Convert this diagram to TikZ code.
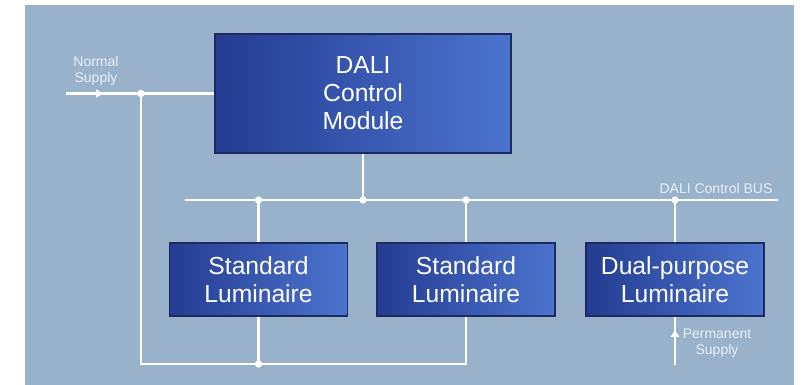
\documentclass[tikz,border=0pt]{standalone}
\usepackage{fontspec}
\setmainfont{Liberation Sans}
\usetikzlibrary{arrows.meta,decorations.markings}

\definecolor{bgblue}{RGB}{153,178,203}
\definecolor{boxdark}{RGB}{36,60,146}
\definecolor{boxlight}{RGB}{76,116,206}
\definecolor{boxedge}{RGB}{28,42,96}
\definecolor{labelgrey}{RGB}{232,238,245}

\tikzset{
  unit/.style={draw=boxedge, line width=0.8pt, left color=boxdark, right color=boxlight,
    text=white, align=center, inner sep=0pt, font=\fontsize{18.5}{21}\selectfont},
  lamp/.style={unit, minimum width=133.5pt, minimum height=54.75pt},
  wire/.style={white, line width=1.8pt},
  feed/.style={wire, postaction=decorate, decoration={markings,
    mark=at position #1 with {\arrow{Triangle[length=5pt,width=6pt]}}}},
  dot/.style={circle, fill=white, inner sep=0pt, minimum size=5.5pt},
  note/.style={text=labelgrey, align=center, inner sep=0pt, font=\fontsize{10.5}{11.5}\selectfont}
}

\begin{document}
\begin{tikzpicture}[x=0.75pt,y=0.75pt,yscale=-1,xscale=1]
\useasboundingbox (0,0) rectangle (803,385);
%Shape: Background
\fill[white] (0,0) rectangle (803,385);
\fill[bgblue] (25,5) rectangle (794,385);

%Shape: Boxes
\node[unit, minimum width=222pt, minimum height=89.25pt] (ctrl) at (363,93.5) {DALI\\Control\\Module};
\node[lamp] (lum1) at (258.5,279.5) {Standard\\Luminaire};
\node[lamp] (lum2) at (466,279.5) {Standard\\Luminaire};
\node[lamp] (dual) at (675,279.5) {Dual-purpose\\Luminaire};

%Coordinates
\coordinate (supW) at (66,93.5);
\coordinate (tap) at (141,93.5);
\coordinate (loop) at (141,364);
\coordinate (busW) at (185,200);
\coordinate (busE) at (778,200);
\coordinate (perm) at (675,365);

%Straight Lines: normal supply
\draw[feed=0.248] (supW) -- (ctrl.west);
\draw[wire] (tap) -- (loop) -| (lum2.south);
\draw[wire] (lum1.south) -- (lum1.south |- loop);
%Straight Lines: control bus
\draw[wire] (busW) -- (busE);
\draw[wire] (ctrl.south) -- (ctrl.south |- busW);
\draw[wire] (lum1.north) -- (lum1.north |- busW);
\draw[wire] (lum2.north) -- (lum2.north |- busW);
\draw[wire] (dual.north) -- (dual.north |- busW);
%Straight Lines: permanent supply
\draw[feed=0.72] (perm) -- (dual.south);

%Shape: Junctions
\node[dot] at (tap) {};
\node[dot] at (lum1.south |- loop) {};
\node[dot] at (ctrl.south |- busW) {};
\node[dot] at (lum1.north |- busW) {};
\node[dot] at (lum2.north |- busW) {};
\node[dot] at (dual.north |- busW) {};

% Text Node
\node[note] (nsup) at (96,71) {Normal\\Supply};
% Text Node
\node[note] (bus) at (716,188) {DALI Control BUS};
% Text Node
\node[note] (psup) at (717,343) {Permanent\\Supply};

\end{tikzpicture}
\end{document}
